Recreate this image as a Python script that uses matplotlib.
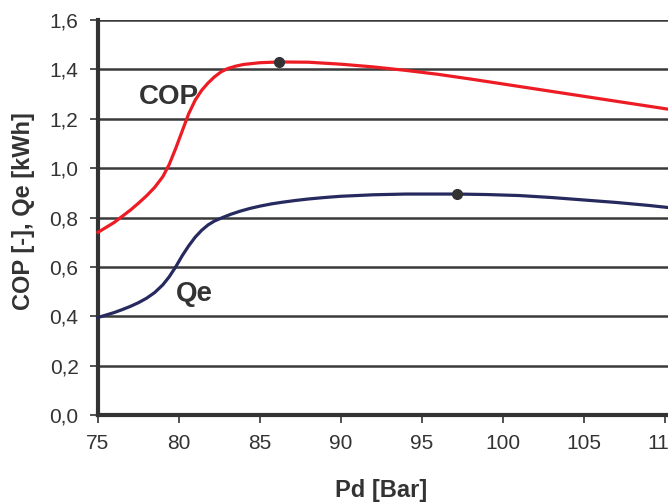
import numpy as np
import matplotlib.pyplot as plt

plt.rcParams['font.family'] = ['Liberation Sans', 'DejaVu Sans']

pd_cop = [75.0, 75.5, 76.0, 76.5, 77.0, 77.5, 78.0, 78.5, 79.0, 79.4, 79.8, 80.2, 80.6, 81.0,
          81.4, 81.8, 82.2, 82.6, 83.0, 83.5, 84.0, 85.0, 86.2, 88.0, 90.0, 92.0, 94.0, 96.0,
          98.0, 100.0, 102.0, 104.0, 106.0, 108.0, 110.0, 111.0]
cop = [0.74, 0.76, 0.78, 0.805, 0.83, 0.858, 0.888, 0.922, 0.965, 1.015, 1.08, 1.15, 1.22, 1.275,
       1.315, 1.345, 1.37, 1.39, 1.403, 1.413, 1.42, 1.427, 1.43, 1.429, 1.421, 1.41, 1.396,
       1.38, 1.361, 1.341, 1.321, 1.301, 1.281, 1.261, 1.241, 1.231]

pd_qe = [75.0, 75.5, 76.0, 76.5, 77.0, 77.5, 78.0, 78.5, 79.0, 79.4, 79.8, 80.2, 80.6, 81.0,
         81.4, 81.8, 82.2, 82.7, 83.2, 83.8, 84.4, 85.0, 85.7, 86.4, 87.2, 88.0, 89.0, 90.0,
         92.0, 94.0, 97.2, 99.0, 101.0, 103.0, 105.0, 107.0, 109.0, 110.0, 111.0]
qe = [0.395, 0.405, 0.415, 0.427, 0.44, 0.455, 0.473, 0.496, 0.527, 0.56, 0.60, 0.645, 0.685,
      0.72, 0.748, 0.77, 0.786, 0.80, 0.813, 0.826, 0.837, 0.846, 0.855, 0.862, 0.869, 0.875,
      0.881, 0.886, 0.892, 0.895, 0.895, 0.893, 0.889, 0.881, 0.871, 0.861, 0.849, 0.842, 0.835]

cop_max = (86.2, 1.43)
qe_max = (97.2, 0.895)

x_ticks = [75, 80, 85, 90, 95, 100, 105, 110]
y_ticks = [0.0, 0.2, 0.4, 0.6, 0.8, 1.0, 1.2, 1.4, 1.6]

txt = '#333333'
fig = plt.figure(figsize=(6.68, 5.03), dpi=100)
ax = fig.add_axes([98/668, 88/503, 599/668, 395/503])

for y in y_ticks[1:]:
    ax.axhline(y, color='#3a3a3a', lw=1.8, zorder=1)

ax.plot(pd_cop, cop, color='#ED1C24', lw=2.3, zorder=3, clip_on=False, solid_joinstyle='round')
ax.plot(pd_qe, qe, color='#262A5E', lw=2.3, zorder=3, clip_on=False, solid_joinstyle='round')
ax.plot(*cop_max, 'o', color='#333333', ms=7, zorder=4)
ax.plot(*qe_max, 'o', color='#333333', ms=7, zorder=4)

ax.text(81.25, 1.29, 'COP', fontsize=20, fontweight='bold', color=txt, ha='right', va='center')
ax.text(80.95, 0.49, 'Qe', fontsize=20, fontweight='bold', color=txt, ha='center', va='center')

ax.set_xlim(75, 112)
ax.set_ylim(0, 1.6)
ax.set_xticks(x_ticks)
ax.set_yticks(y_ticks)
ax.set_yticklabels([('%.1f' % v).replace('.', ',') for v in y_ticks])
ax.tick_params(axis='both', direction='out', length=6, width=1.2, color='#333333',
               labelsize=15, labelcolor=txt, pad=8)

for s in ['top', 'right']:
    ax.spines[s].set_visible(False)
for s in ['left', 'bottom']:
    ax.spines[s].set_linewidth(3)
    ax.spines[s].set_color('#333333')

fig.text(381/668, 1 - 490/503, 'Pd [Bar]', fontsize=17, fontweight='bold', color=txt,
         ha='center', va='center')
fig.text(24/668, 1 - 211/503, 'COP [-], Qe [kWh]', fontsize=17, fontweight='bold', color=txt,
         ha='center', va='center', rotation=90)

fig.savefig('out.png', dpi=100)
